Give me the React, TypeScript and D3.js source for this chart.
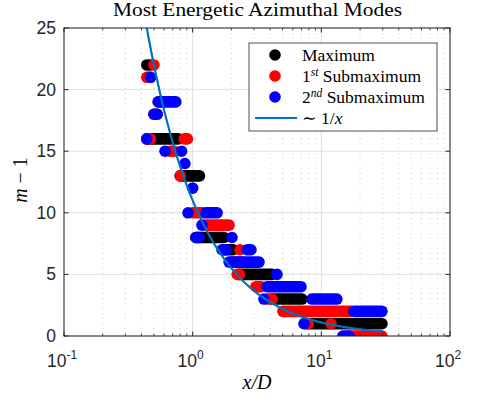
import React from 'react';
import * as d3 from 'd3';

// segments of consecutive markers: [m-1, first x/D, last x/D]
const maximumSegs: [number, number, number][] = [
  [22, 0.44, 0.47], [16, 0.44, 0.77], [13, 0.8, 1.13], [8, 1.06, 1.75],
  [7, 1.75, 2.06], [5, 2.3, 4.14], [3, 4.14, 7.08], [1, 7.6, 29.6],
];
const sub1Segs: [number, number, number][] = [
  [22, 0.5, 0.5], [21, 0.44, 0.47], [19, 0.54, 0.59], [18, 0.5, 0.53],
  [16, 0.44, 0.47], [16, 0.86, 0.91], [15, 0.67, 0.72], [13, 0.8, 0.8],
  [10, 1.0, 1.2], [9, 1.25, 1.92], [7, 2.33, 2.33], [6, 2.0, 2.4],
  [5, 2.22, 2.3], [4, 3.1, 3.4], [3, 3.8, 4.14], [2, 5.03, 17.0],
  [1, 7.9, 7.9], [1, 11.9, 11.9], [0, 16.4, 29.6],
];
const sub2Segs: [number, number, number][] = [
  [21, 0.47, 0.47], [19, 0.54, 0.74], [18, 0.5, 0.53], [16, 0.44, 0.44],
  [15, 0.61, 0.61], [15, 0.82, 0.82], [14, 0.87, 0.87], [12, 1.0, 1.0],
  [10, 0.92, 0.92], [10, 1.27, 1.55], [9, 1.18, 1.18], [8, 1.06, 1.12],
  [8, 2.02, 2.02], [7, 1.69, 1.82], [7, 2.65, 2.84], [6, 1.92, 3.28],
  [5, 4.52, 4.52], [4, 3.78, 6.95], [3, 3.58, 3.58], [3, 8.46, 13.2],
  [2, 17.9, 29.6], [1, 7.33, 7.33], [0, 14.7, 16.4],
];

const fitCoef = 11; // m-1 ~ fitCoef / x
const fitRange = [0.4, 30];

const xTicks = [0.1, 1, 10, 100];
const xTickExp = ['-1', '0', '1', '2'];
const yTicks = [0, 5, 10, 15, 20, 25];

const series = [
  { name: 'Maximum', sup: '', rest: '', segs: maximumSegs, color: '#000000' },
  { name: '1', sup: 'st', rest: ' Submaximum', segs: sub1Segs, color: '#ff0000' },
  { name: '2', sup: 'nd', rest: ' Submaximum', segs: sub2Segs, color: '#0000ff' },
];

const W = 498, H = 398;
const L = 64, R = 450, T = 28, B = 336;
const axisColor = '#262626';
const sans = '"Liberation Sans", Arial, sans-serif';
const serif = '"Liberation Serif", "DejaVu Serif", serif';

export default function App() {
  const x = d3.scaleLog().domain([0.1, 100]).range([L, R]);
  const y = d3.scaleLinear().domain([0, 25]).range([B, T]);
  const r = 5.8;

  const minor: number[] = [];
  [0.1, 1, 10].forEach((d) => d3.range(2, 10).forEach((k) => minor.push(k * d)));

  const fitX = d3.range(0, 201).map((i) => fitRange[0] * Math.pow(fitRange[1] / fitRange[0], i / 200));
  const fitLine = d3.line<number>().x((v) => x(v)).y((v) => y(fitCoef / v));

  return (
    <svg width={W} height={H} style={{ position: 'absolute', left: 0, top: 0, background: '#fff' }}>
      <defs>
        <clipPath id="plot"><rect x={L} y={T} width={R - L} height={B - T} /></clipPath>
      </defs>
      <rect x={L} y={T} width={R - L} height={B - T} fill="#fff" />
      {/* grid */}
      {minor.map((v) => (
        <line key={'mg' + v} x1={x(v)} x2={x(v)} y1={T} y2={B} stroke="#c8c8c8" strokeWidth={0.8} strokeDasharray="1,4" />
      ))}
      {xTicks.map((v) => (
        <line key={'xg' + v} x1={x(v)} x2={x(v)} y1={T} y2={B} stroke="#e0e0e0" strokeWidth={1} />
      ))}
      {yTicks.map((v) => (
        <line key={'yg' + v} x1={L} x2={R} y1={y(v)} y2={y(v)} stroke="#e0e0e0" strokeWidth={1} />
      ))}
      {/* markers */}
      <g clipPath="url(#plot)">
        {series.map((s) => (
          <g key={s.color}>
            {s.segs.map(([m, a, b], i) => (
              <rect key={i} x={x(a) - r} y={y(m) - r} width={x(b) - x(a) + 2 * r} height={2 * r} rx={r} ry={r} fill={s.color} />
            ))}
          </g>
        ))}
        <path d={fitLine(fitX) || ''} fill="none" stroke="#0072BD" strokeWidth={2.2} />
      </g>
      {/* axes box and ticks */}
      <rect x={L} y={T} width={R - L} height={B - T} fill="none" stroke={axisColor} strokeWidth={1} />
      {minor.map((v) => (
        <g key={'mt' + v} stroke={axisColor} strokeWidth={0.8}>
          <line x1={x(v)} x2={x(v)} y1={B} y2={B - 2.5} />
          <line x1={x(v)} x2={x(v)} y1={T} y2={T + 2.5} />
        </g>
      ))}
      {xTicks.map((v, i) => (
        <g key={'xt' + v}>
          <line x1={x(v)} x2={x(v)} y1={B} y2={B - 4.5} stroke={axisColor} />
          <line x1={x(v)} x2={x(v)} y1={T} y2={T + 4.5} stroke={axisColor} />
          <text x={x(v) - 2} y={B + 31} textAnchor="middle" fontFamily={sans} fontSize={17.5} fill={axisColor}>
            10<tspan fontSize={12} dy={-8}>{xTickExp[i]}</tspan>
          </text>
        </g>
      ))}
      {yTicks.map((v) => (
        <g key={'yt' + v}>
          <line x1={L} x2={L + 4.5} y1={y(v)} y2={y(v)} stroke={axisColor} />
          <line x1={R} x2={R - 4.5} y1={y(v)} y2={y(v)} stroke={axisColor} />
          <text x={L - 8} y={y(v) + 6} textAnchor="end" fontFamily={sans} fontSize={17.5} fill={axisColor}>{v}</text>
        </g>
      ))}
      {/* labels */}
      <text x={257.5} y={16} textAnchor="middle" fontFamily={serif} fontSize={18.5} textLength={289} lengthAdjust="spacingAndGlyphs" fill="#000">Most Energetic Azimuthal Modes</text>
      <text x={257} y={389} textAnchor="middle" fontFamily={serif} fontSize={20} fontStyle="italic" fill="#000">x/D</text>
      <text transform="translate(27,180) rotate(-90)" textAnchor="middle" fontFamily={serif} fontSize={20} fill="#000">
        <tspan fontStyle="italic">m</tspan> − 1
      </text>
      {/* legend */}
      <g>
        <rect x={249} y={43} width={188} height={88} fill="#fff" stroke={axisColor} strokeWidth={0.8} />
        {series.map((s, i) => (
          <g key={'lg' + i}>
            <circle cx={275} cy={55 + i * 21} r={r} fill={s.color} />
            <text x={302} y={60.5 + i * 21} fontFamily={serif} fontSize={17.5} fill="#000">
              {s.name}
              {s.sup && <tspan fontSize={11.5} fontStyle="italic" dy={-6}>{s.sup}</tspan>}
              {s.rest && <tspan dy={s.sup ? 6 : 0}>{s.rest}</tspan>}
            </text>
          </g>
        ))}
        <line x1={255} x2={297} y1={118} y2={118} stroke="#0072BD" strokeWidth={2.2} />
        <text x={302} y={124} fontFamily={serif} fontSize={17.5} fill="#000">
          ∼ 1/<tspan fontStyle="italic">x</tspan>
        </text>
      </g>
    </svg>
  );
}
